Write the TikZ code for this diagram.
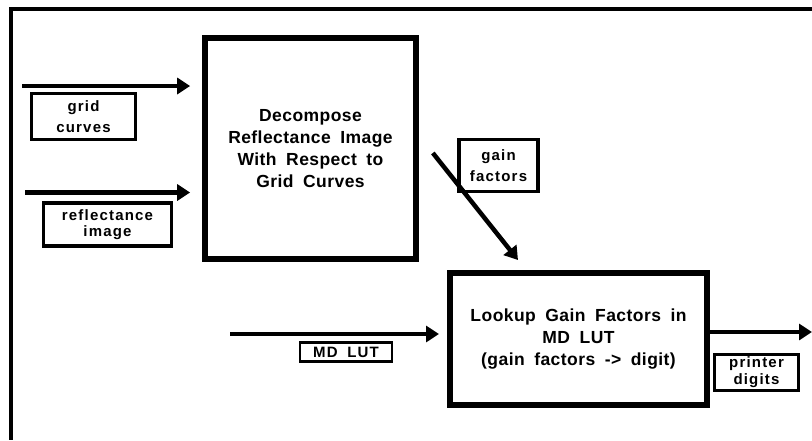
\documentclass[tikz,border=0pt]{standalone}
\usepackage{fontspec}
\setmainfont{Liberation Sans}[WordSpace=1.8,LetterSpace=2.5]
\usetikzlibrary{arrows.meta,positioning}

\tikzset{
  procbox/.style={draw,line width=5.7pt,align=center,inner sep=0pt},
  tagbox/.style={draw,line width=3.2pt,align=center,inner sep=0pt,
    font=\fontsize{15}{#1}\selectfont\bfseries\addfontfeature{LetterSpace=8}},
  tagbox/.default=21,
  flow/.style={line width=4.5pt,-{Triangle[length=13pt,width=16pt]}},
}

\begin{document}
\begin{tikzpicture}[x=1pt,y=-1pt,font=\fontsize{17.5}{22}\selectfont\bfseries]
  \useasboundingbox (0,0) rectangle (812,440);
  % frame (top and left only)
  \draw[line width=3.8pt] (812,8.7) -- (10.8,8.7) -- (10.8,440);

  % processing blocks
  \node[procbox,minimum width=211pt,minimum height=221pt]
       (dec) at (310.5,148.5) {Decompose\\Reflectance Image\\With Respect to\\Grid Curves};
  \node[procbox,line width=6pt,minimum width=257pt,minimum height=132pt]
       (lkp) at (578.5,339) {Lookup Gain Factors in\\MD LUT\\(gain factors -> digit)};

  % data labels
  \node[tagbox,minimum width=104pt,minimum height=46pt] (grid) at (83.5,116.5) {grid\\curves};
  \node[tagbox=16,minimum width=128pt,minimum height=43pt] (refl) at (107.5,224.5) {reflectance\\image};
  \node[tagbox,minimum width=79pt,minimum height=52pt] (gain) at (498.5,165.5) {gain\\factors};
  \node[tagbox,line width=2.6pt,minimum width=92pt,minimum height=19pt] (mdlut) at (346,352) {MD LUT};
  \node[tagbox=17,minimum width=84pt,minimum height=36pt] (prn) at (756.5,372.5) {printer\\digits};

  % flows
  \coordinate (gridsrc) at (22,86);
  \coordinate (reflsrc) at (25,192.5);
  \coordinate (lutsrc) at (230,334);
  \coordinate (prnout) at (812,332);
  \coordinate (gainsrc) at ([xshift=14pt,yshift=-4.5pt]dec.east);
  \coordinate (gaintip) at ([xshift=-60.5pt,yshift=10pt]lkp.north);
  \draw[flow,shorten >=12pt] (gridsrc) -- (gridsrc -| dec.west);
  \draw[flow,shorten >=12pt] (reflsrc) -- (reflsrc -| dec.west);
  \draw[flow] (gainsrc) -- (gaintip);
  \draw[flow,shorten >=8pt] (lutsrc) -- (lutsrc -| lkp.west);
  \draw[flow] ([yshift=7pt]lkp.east) -- (prnout);
\end{tikzpicture}
\end{document}
